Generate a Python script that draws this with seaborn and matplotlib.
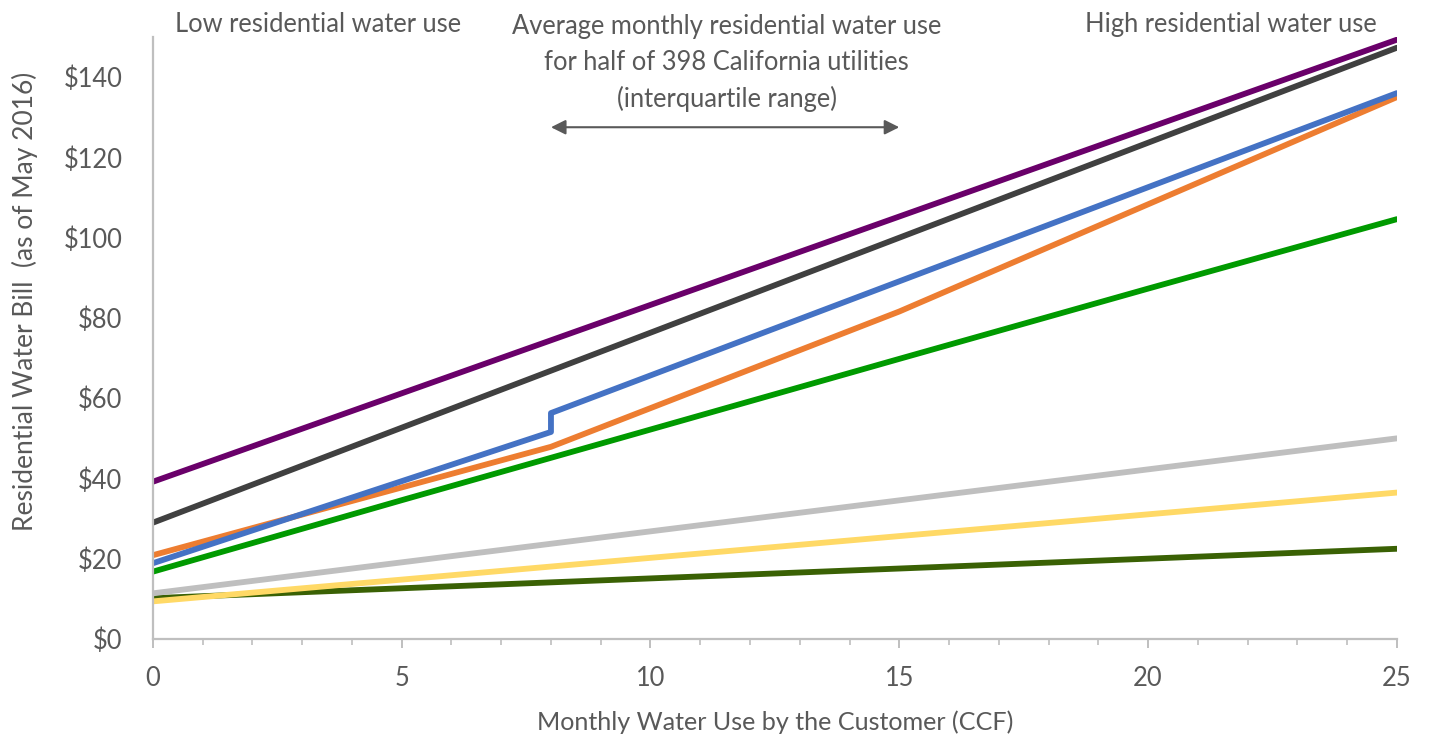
import matplotlib
matplotlib.use("Agg")
import matplotlib.pyplot as plt
from matplotlib.ticker import MultipleLocator, FuncFormatter
import seaborn as sns
import pandas as pd

# ---- data ----
series_names = ["Dark green", "Yellow", "Gray", "Green", "Orange", "Blue", "Black", "Purple"]
x_darkgreen = [0, 25]
y_darkgreen = [10.2, 22.5]
x_yellow = [0, 25]
y_yellow = [9.4, 36.5]
x_gray = [0, 25]
y_gray = [11.4, 50.0]
x_green = [0, 5, 10, 15, 20, 25]
y_green = [16.8, 34.6, 52.2, 69.8, 87.3, 104.6]
x_orange = [0, 8, 15, 25]
y_orange = [20.9, 47.9, 81.6, 135.0]
x_blue = [0, 8, 8, 25]
y_blue = [18.9, 51.6, 56.3, 136.0]
x_black = [0, 25]
y_black = [29.0, 147.3]
x_purple = [0, 25]
y_purple = [39.2, 149.3]

series_colors = ["#3a6104", "#ffd966", "#bfbfbf", "#009a00", "#ed7d31", "#4472c4", "#404040", "#6a006a"]

x_ticks = [0, 5, 10, 15, 20, 25]
y_ticks = [0, 20, 40, 60, 80, 100, 120, 140]

x_label = "Monthly Water Use by the Customer (CCF)"
y_label = "Residential Water Bill  (as of May 2016)"
low_text = "Low residential water use"
high_text = "High residential water use"
mid_lines = ["Average monthly residential water use",
             "for half of 398 California utilities",
             "(interquartile range)"]
iqr_range = [8, 15]

# ---- build long-form table ----
xs = [x_darkgreen, x_yellow, x_gray, x_green, x_orange, x_blue, x_black, x_purple]
ys = [y_darkgreen, y_yellow, y_gray, y_green, y_orange, y_blue, y_black, y_purple]
rows = []
for name, xv, yv in zip(series_names, xs, ys):
    for i, (a, b) in enumerate(zip(xv, yv)):
        rows.append({"series": name, "order": i, "x": a, "y": b})
df = pd.DataFrame(rows)

sns.set_theme(style="white")
plt.rcParams["font.family"] = ["Lato", "DejaVu Sans"]

TXT = "#595959"
AX = "#bfbfbf"
FS = 18.4

fig = plt.figure(figsize=(14.29, 7.38), dpi=100)
ax = fig.add_axes([0.107, 0.134, 0.8705, 0.816])

sns.lineplot(data=df, x="x", y="y", hue="series", hue_order=series_names,
             palette=dict(zip(series_names, series_colors)),
             estimator=None, sort=False, units="series", linewidth=4.2,
             legend=False, ax=ax)

ax.set_xlim(0, 25)
ax.set_ylim(0, 150)
ax.set_xticks(x_ticks)
ax.set_yticks(y_ticks)
ax.xaxis.set_minor_locator(MultipleLocator(1))
ax.yaxis.set_major_formatter(FuncFormatter(lambda v, p: f"${int(v)}"))

for s in ["top", "right"]:
    ax.spines[s].set_visible(False)
for s in ["left", "bottom"]:
    ax.spines[s].set_color(AX)
    ax.spines[s].set_linewidth(1.6)

ax.tick_params(axis="x", which="major", direction="out", length=6.5, width=1.4,
               color=AX, labelsize=FS, labelcolor=TXT, pad=13, bottom=True)
ax.tick_params(axis="x", which="minor", direction="out", length=4.3, width=1.2,
               color=AX, bottom=True)
ax.tick_params(axis="y", which="major", length=0, labelsize=FS, labelcolor=TXT, pad=22)

ax.set_xlabel("")
ax.set_ylabel("")
fig.text(0.5425, 1 - 722 / 738, x_label, ha="center", va="center", fontsize=18.1, color=TXT)
fig.text(25 / 1429, 1 - 301 / 738, y_label, ha="center", va="center", rotation=90,
         fontsize=19, color=TXT)

# annotations
ax.text(0.44, 153, low_text, ha="left", va="center", fontsize=FS, color=TXT, clip_on=False)
ax.text(24.59, 153, high_text, ha="right", va="center", fontsize=FS, color=TXT, clip_on=False)
for line, yv in zip(mid_lines, [152.5, 143.7, 134.5]):
    ax.text(11.53, yv, line, ha="center", va="center", fontsize=FS, color=TXT, clip_on=False)
ax.annotate("", xy=(iqr_range[0], 127.5), xytext=(iqr_range[1], 127.5),
            arrowprops=dict(arrowstyle="<|-|>", color=TXT, lw=1.5,
                            mutation_scale=22, shrinkA=0, shrinkB=0))

fig.savefig("out.png", dpi=100, facecolor="white")
